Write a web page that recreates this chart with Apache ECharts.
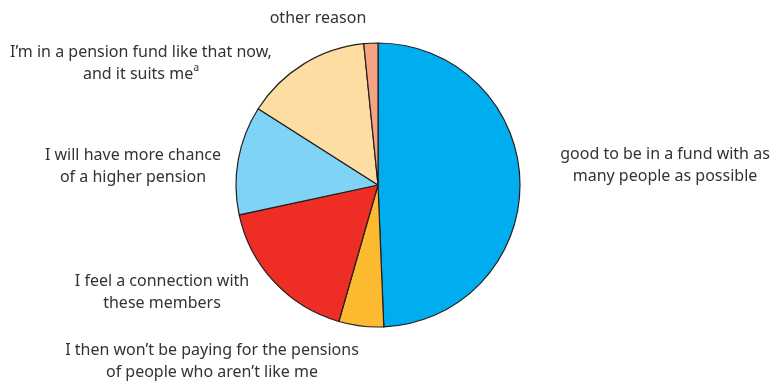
<!DOCTYPE html>
<html>
<head>
<meta charset="utf-8">
<script src="https://cdn.jsdelivr.net/npm/echarts@6/dist/echarts.min.js"></script>
<style>
  html, body { margin: 0; padding: 0; background: #ffffff; }
  #chart { width: 774px; height: 381px; }
</style>
</head>
<body>
<div id="chart"></div>
<script>
// Reasons given, in clockwise order from 12 o'clock
const categories = [
  'good to be in a fund with as\nmany people as possible',
  'I then won’t be paying for the pensions\nof people who aren’t like me',
  'I feel a connection with\nthese members',
  'I will have more chance\nof a higher pension',
  'I’m in a pension fund like that now,\nand it suits me{sup|a}',
  'other reason'
];
// Share of respondents (%)
const shares = [49.4, 5.1, 17.2, 12.4, 14.4, 1.6];
const sliceColors = ['#00adee', '#fbba30', '#ee2d24', '#7fd3f7', '#fddda1', '#f6a384'];

// Where each label's centre sits on the page
const labelAnchors = [
  [665, 165], [212, 361], [162, 292], [133, 166], [141, 63], [318, 18]
];

const chart = echarts.init(document.getElementById('chart'), null, { renderer: 'canvas' });

chart.setOption({
  animation: false,
  series: [{
    type: 'pie',
    center: [378, 185],
    radius: 142,
    startAngle: 90,
    clockwise: true,
    avoidLabelOverlap: false,
    itemStyle: { borderColor: '#231f20', borderWidth: 1.2 },
    label: {
      show: true,
      formatter: p => p.name,
      color: '#333333',
      fontFamily: 'Noto Sans',
      fontSize: 16,
      lineHeight: 22,
      align: 'center',
      rich: {
        sup: { fontSize: 10.5, fontFamily: 'Noto Sans', color: '#333333', verticalAlign: 'top', lineHeight: 22, padding: [0, 0, 8, 0] }
      }
    },
    labelLine: { show: false },
    labelLayout: params => ({
      x: labelAnchors[params.dataIndex][0],
      y: labelAnchors[params.dataIndex][1],
      align: 'center',
      verticalAlign: 'middle'
    }),
    emphasis: { disabled: true },
    data: categories.map((name, i) => ({
      name: name,
      value: shares[i],
      itemStyle: { color: sliceColors[i] }
    }))
  }]
});
</script>
</body>
</html>
